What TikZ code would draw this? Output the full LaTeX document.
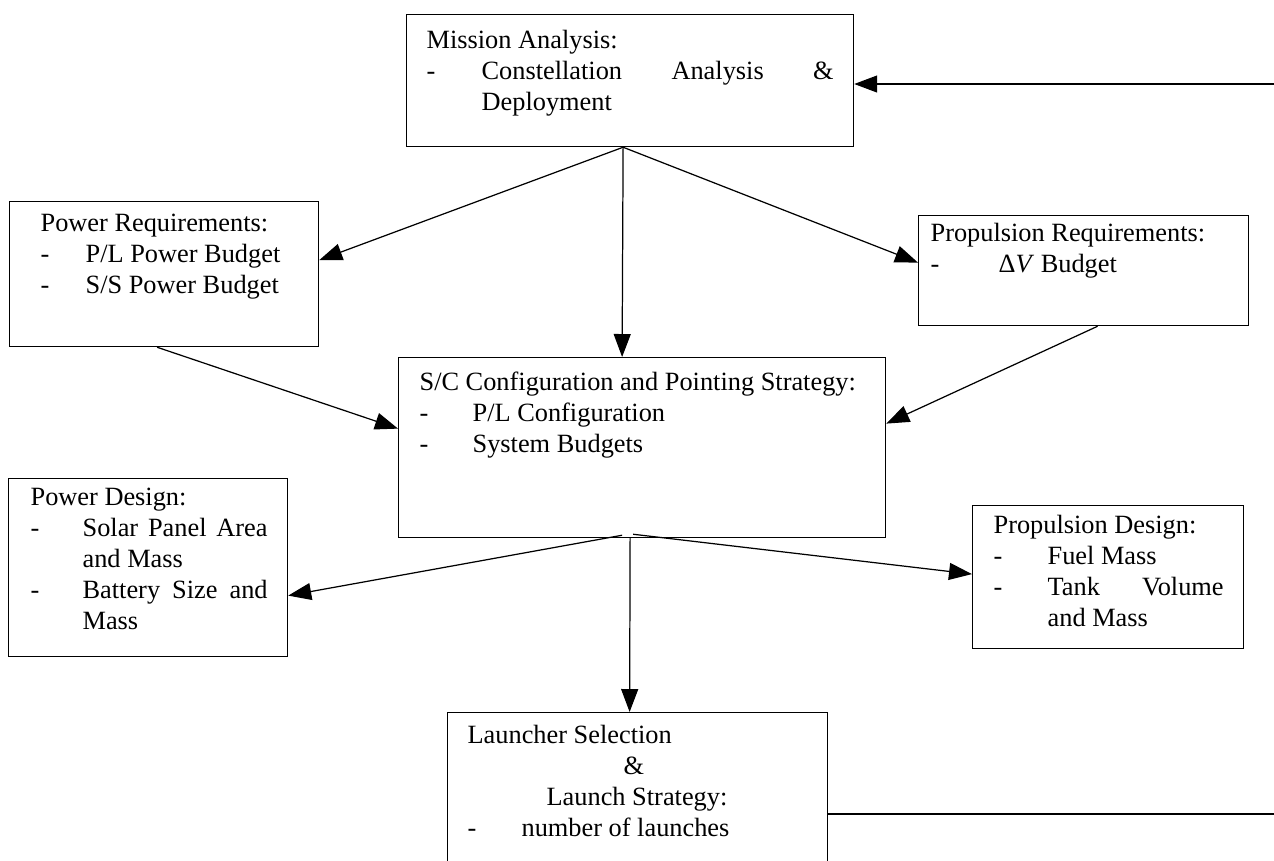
\documentclass[tikz,border=0pt]{standalone}
\usepackage{fontspec}
\setmainfont{Liberation Serif}
\usetikzlibrary{arrows.meta,calc}

\newlength\px
\setlength\px{0.02cm}
% box contents: width, height, left margin, first baseline, text
\newcommand{\boxtext}[5]{\vbox to #2\px{\hsize=#1\px
  \vskip\dimexpr#4\px-\baselineskip\relax\hbox{}
  \leftskip=#3\px \rightskip=20\px \parindent=0pt
  \noindent #5\par\vfill}}
% dash item with hanging indent
\newcommand{\itm}[1]{\par\hangindent=#1\px\hangafter=1\noindent\hbox to #1\px{-\hfil}}

\tikzset{
  block/.style={draw, line width=0.7pt, anchor=north west, inner sep=0pt,
    font=\fontsize{15pt}{17.6pt}\selectfont},
  link/.style={line width=0.7pt, -{Triangle[length=0.46cm, width=0.34cm]}},
  plain/.style={line width=0.7pt}
}

\begin{document}
\begin{tikzpicture}[x=0.02cm, y=-0.02cm]
\useasboundingbox (0,0) rectangle (1274,860);

% boxes
\node[block] (mission) at (406,14)
  {\boxtext{447}{132}{20}{34}{Mission Analysis:\itm{55}Constellation\hfill Analysis\hfill \&\newline Deployment}};
\node[block] (pwrreq) at (9,201)
  {\boxtext{309}{145}{31}{30}{Power Requirements:\itm{45}P/L Power Budget\itm{45}S/S Power Budget}};
\node[block] (propreq) at (918,215)
  {\boxtext{330}{110}{12}{26}{Propulsion Requirements:\itm{68}Δ\textit{V} Budget}};
\node[block] (config) at (398,357)
  {\boxtext{487}{180}{21}{33}{S/C Configuration and Pointing Strategy:\itm{53}P/L Configuration\itm{53}System Budgets}};
\node[block] (pwrdes) at (8,478)
  {\boxtext{279}{178}{22}{27}{Power Design:\itm{52}Solar Panel Area\linebreak and Mass\itm{52}Battery Size and\linebreak Mass}};
\node[block] (propdes) at (972,505)
  {\boxtext{271}{143}{21}{28}{Propulsion Design:\itm{54}Fuel Mass\itm{54}Tank Volume\linebreak and Mass}};
\node[block] (launch) at (447,712)
  {\boxtext{380}{160}{20}{31}{Launcher Selection\par\hspace*{156\px}\&\par\hspace*{79\px}Launch Strategy:\itm{54}number of launches}};

% free ends of the loop
\coordinate (loopin) at (1274,84);
\coordinate (loopout) at (1274,814);

% connectors
\draw[link] (loopin) -- (loopin -| mission.east);
\draw[link] ($(mission.south)+(-7,0)$) -- ($(pwrreq.east)+(0,-14)$);
\draw[link] ($(mission.south)+(-7,0)$) -- ($(propreq.west)+(0,-8)$);
\draw[link] ($(mission.south)+(-7,0)$) -- ($(config.north)+(-20,0)$);
\draw[link] ($(pwrreq.south)+(-7,0)$) -- ($(config.west)+(0,-19)$);
\draw[link] ($(propreq.south)+(14,0)$) -- ($(config.east)+(0,-24)$);
\draw[link] ($(config.south)+(-20,-3)$) -- ($(pwrdes.east)+(0,28)$);
\draw[link] ($(config.south)+(-9,-4)$) -- ($(propdes.west)+(0,-3)$);
\draw[link] ($(config.south)+(-12,0)$) -- ($(launch.north)+(-8,0)$);
\draw[plain] (launch.east |- loopout) -- (loopout);
\end{tikzpicture}
\end{document}
